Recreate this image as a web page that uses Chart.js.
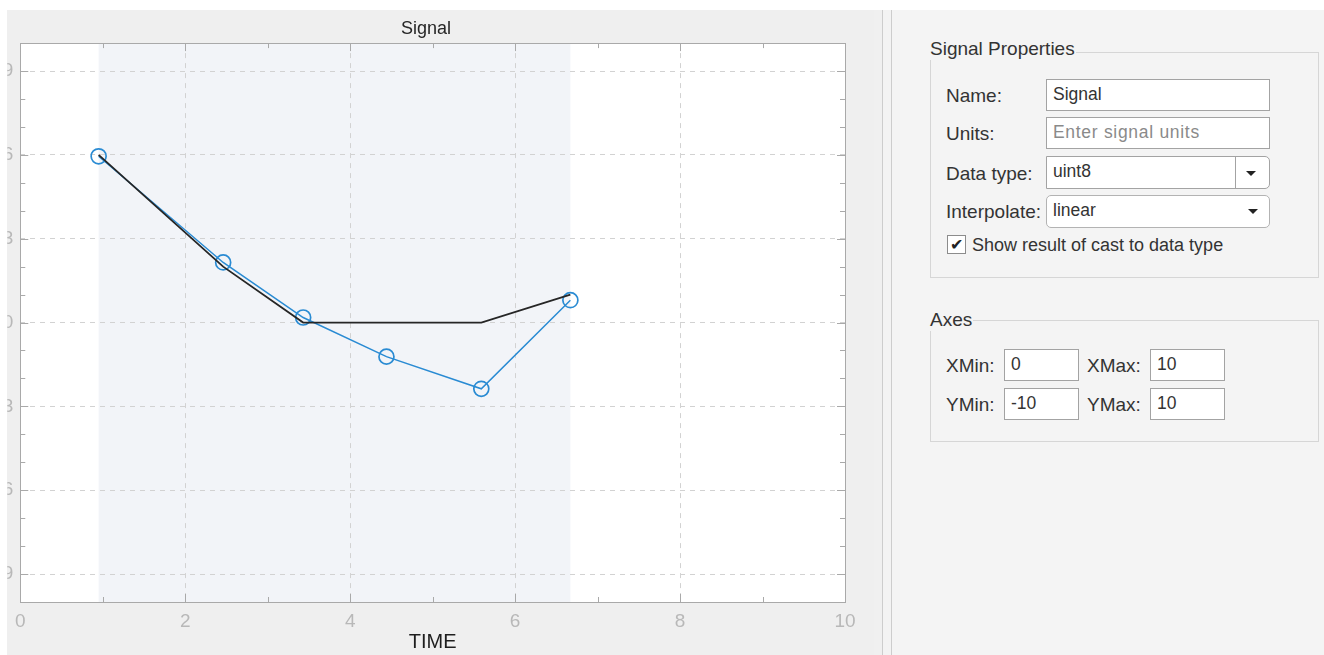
<!DOCTYPE html>
<html>
<head>
<meta charset="utf-8">
<script src="https://cdn.jsdelivr.net/npm/chart.js@4.4.1/dist/chart.umd.min.js"></script>
<style>
  body { margin:0; width:1324px; height:655px; overflow:hidden; background:#fff;
         font-family:"Liberation Sans", Arial, sans-serif; color:#2e2e2e; }
  #plotPanel { position:absolute; left:7px; top:10px; width:867px; height:645px; background:#efefef; overflow:hidden; }
  #splitA { position:absolute; left:874px; top:10px; width:8px; height:645px; background:#f0f0f0; }
  #splitB { position:absolute; left:882px; top:10px; width:8px; height:645px; background:#f3f3f3;
            border-left:1px solid #cdcdcd; border-right:1px solid #cdcdcd; }
  #side { position:absolute; left:892px; top:10px; width:432px; height:645px; background:#f4f4f4; }
  .group { position:absolute; border:1px solid #d6d6d6; }
  .legend { position:absolute; font-size:19px; line-height:22px; background:#f4f4f4; padding-right:1px; color:#333; }
  .lbl { position:absolute; font-size:19px; line-height:22px; color:#333; }
  .box { position:absolute; background:#fff; border:1px solid #a3a3a3; box-sizing:border-box;
         font-size:17.5px; line-height:20px; padding:4px 6px; color:#333; }
  .arrow { position:absolute; width:0; height:0; border-left:5px solid transparent;
           border-right:5px solid transparent; border-top:5px solid #222; }
</style>
</head>
<body>
<div id="plotPanel"><canvas id="signalChart" width="867" height="645"></canvas></div>
<div id="splitA"></div>
<div id="splitB"></div>
<div id="side"></div>

<!-- Signal Properties group -->
<div class="group" style="left:930px;top:52px;width:387px;height:224px;"></div>
<div class="legend" style="left:930px;top:38px;">Signal Properties</div>
<div class="lbl" style="left:946px;top:85px;">Name:</div>
<div class="box" style="left:1046px;top:79px;width:224px;height:32px;">Signal</div>
<div class="lbl" style="left:946px;top:123px;">Units:</div>
<div class="box" style="left:1046px;top:117px;width:224px;height:32px;color:#8a8a8a;letter-spacing:0.7px;">Enter signal units</div>
<div class="lbl" style="left:946px;top:163px;">Data type:</div>
<div class="box" style="left:1046px;top:156px;width:224px;height:33px;border-radius:0 5px 5px 0;">uint8</div>
<div style="position:absolute;left:1235px;top:157px;width:1px;height:31px;background:#a3a3a3;"></div>
<div class="arrow" style="left:1246px;top:171px;"></div>
<div class="lbl" style="left:946px;top:201px;">Interpolate:</div>
<div class="box" style="left:1046px;top:195px;width:224px;height:33px;border-radius:5px;border-color:#b3b3b3;">linear</div>
<div class="arrow" style="left:1248px;top:209px;"></div>
<div style="position:absolute;left:947px;top:235px;width:19px;height:19px;box-sizing:border-box;border:1px solid #8c8c8c;background:#fff;font-size:16px;line-height:17px;text-align:center;color:#222;">&#10004;</div>
<div class="lbl" style="left:972px;top:234px;font-size:18px;">Show result of cast to data type</div>

<!-- Axes group -->
<div class="group" style="left:930px;top:320px;width:387px;height:120px;"></div>
<div class="legend" style="left:930px;top:309px;">Axes</div>
<div class="lbl" style="left:946px;top:355px;">XMin:</div>
<div class="box" style="left:1004px;top:349px;width:75px;height:32px;">0</div>
<div class="lbl" style="left:1087px;top:355px;">XMax:</div>
<div class="box" style="left:1150px;top:349px;width:75px;height:32px;">10</div>
<div class="lbl" style="left:946px;top:394px;">YMin:</div>
<div class="box" style="left:1004px;top:388px;width:75px;height:32px;">-10</div>
<div class="lbl" style="left:1087px;top:394px;">YMax:</div>
<div class="box" style="left:1150px;top:388px;width:75px;height:32px;">10</div>

<script>
// signal points (time, value) and the value after cast to uint8
const timeValues = [0.95, 2.46, 3.43, 4.44, 5.59, 6.67];
const signalValues = [5.95, 2.15, 0.18, -1.22, -2.37, 0.8];
const castValues = [6, 2, 0, 0, 0, 1];

// axes
const xMin = 0, xMax = 10, yMin = -10, yMax = 10;
const xTickValues = [0, 2, 4, 6, 8, 10];
const yTickValues = [-9, -6, -3, 0, 3, 6, 9];
const xMinorTicks = [1, 3, 5, 7, 9];
const yMinorTicks = [-8, -7, -5, -4, -2, -1, 1, 2, 4, 5, 7, 8];

const blue = '#2a8bd3';
const frameColor = '#a9a9a9';
const tickFont = { family: '"Liberation Sans Narrow", "Arial Narrow", "Liberation Sans", sans-serif', size: 19 };

// white plot background + shaded span covering the signal's time range
const shadePlugin = {
  id: 'shade',
  beforeDraw(chart) {
    const { ctx, chartArea: a, scales } = chart;
    ctx.save();
    ctx.fillStyle = '#ffffff';
    ctx.fillRect(a.left, a.top, a.width, a.height);
    const x0 = scales.x.getPixelForValue(timeValues[0]);
    const x1 = scales.x.getPixelForValue(timeValues[timeValues.length - 1]);
    ctx.fillStyle = '#f2f4f8';
    ctx.fillRect(x0, a.top, x1 - x0, a.height);
    ctx.restore();
  }
};

// box around plot with inward ticks on all four sides
const framePlugin = {
  id: 'frame',
  afterDraw(chart) {
    const { ctx, chartArea: a, scales } = chart;
    ctx.save();
    ctx.strokeStyle = frameColor;
    ctx.lineWidth = 1;
    ctx.strokeRect(Math.round(a.left) + 0.5, Math.round(a.top) + 0.5, Math.round(a.width), Math.round(a.height));
    ctx.beginPath();
    const xt = (v, len) => {
      const px = Math.round(scales.x.getPixelForValue(v)) + 0.5;
      ctx.moveTo(px, a.bottom); ctx.lineTo(px, a.bottom - len);
      ctx.moveTo(px, a.top); ctx.lineTo(px, a.top + len);
    };
    const yt = (v, len) => {
      const py = Math.round(scales.y.getPixelForValue(v)) + 0.5;
      ctx.moveTo(a.left, py); ctx.lineTo(a.left + len, py);
      ctx.moveTo(a.right, py); ctx.lineTo(a.right - len, py);
    };
    xTickValues.forEach(v => xt(v, 8));
    xMinorTicks.forEach(v => xt(v, 5));
    yTickValues.forEach(v => yt(v, 8));
    yMinorTicks.forEach(v => yt(v, 5));
    ctx.stroke();
    ctx.restore();
  }
};

const ctx = document.getElementById('signalChart').getContext('2d');
new Chart(ctx, {
  type: 'line',
  data: {
    datasets: [
      {
        label: 'cast',
        data: timeValues.map((t, i) => ({ x: t, y: castValues[i] })),
        borderColor: '#262626',
        borderWidth: 1.8,
        pointRadius: 0,
        tension: 0
      },
      {
        label: 'Signal',
        data: timeValues.map((t, i) => ({ x: t, y: signalValues[i] })),
        borderColor: blue,
        borderWidth: 1.5,
        pointRadius: 7.5,
        pointStyle: 'circle',
        pointBackgroundColor: 'rgba(0,0,0,0)',
        pointBorderColor: blue,
        pointBorderWidth: 1.7,
        tension: 0
      }
    ]
  },
  options: {
    responsive: false,
    animation: false,
    layout: { padding: { left: 0, right: 29, top: 0, bottom: 0 } },
    plugins: {
      legend: { display: false },
      tooltip: { enabled: false },
      title: {
        display: true,
        text: 'Signal',
        color: '#262626',
        font: { family: '"Liberation Sans", Arial, sans-serif', size: 18, weight: 'normal', lineHeight: 1.2 },
        padding: { top: 8, bottom: 3.5 }
      }
    },
    scales: {
      x: {
        type: 'linear',
        min: xMin, max: xMax,
        afterBuildTicks: s => { s.ticks = xTickValues.map(v => ({ value: v })); },
        afterFit: s => { s.height = 53; },
        ticks: { color: '#b8b8b8', font: tickFont, padding: 8, maxRotation: 0 },
        grid: { color: '#d2d2d2', drawTicks: false, lineWidth: 1 },
        border: { display: false, dash: [5, 5] },
        title: {
          display: true, text: 'TIME', color: '#1e1e1e',
          font: { family: tickFont.family, size: 20, lineHeight: 1.2 },
          padding: { top: 0, bottom: 1 }
        }
      },
      y: {
        type: 'linear',
        min: yMin, max: yMax,
        afterBuildTicks: s => { s.ticks = yTickValues.map(v => ({ value: v })); },
        afterFit: s => { s.width = 13; },
        ticks: { color: '#b8b8b8', font: tickFont, padding: 7 },
        grid: { color: '#d2d2d2', drawTicks: false, lineWidth: 1 },
        border: { display: false, dash: [5, 5] }
      }
    }
  },
  plugins: [shadePlugin, framePlugin]
});
</script>
</body>
</html>
